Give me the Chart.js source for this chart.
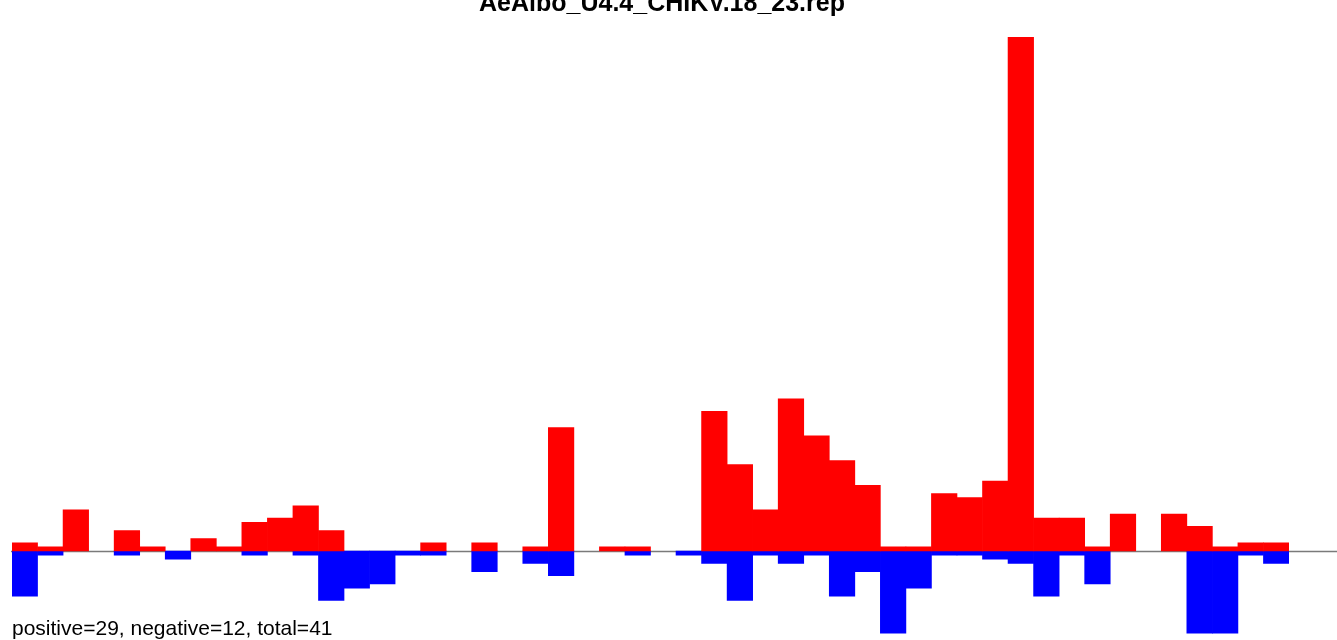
<!DOCTYPE html>
<html>
<head>
<meta charset="utf-8">
<title>AeAlbo_U4.4_CHIKV.18_23.rep</title>
<script src="https://cdn.jsdelivr.net/npm/chart.js@4/dist/chart.umd.min.js"></script>
<style>
  html, body { margin: 0; padding: 0; background: #ffffff; }
  #wrap { width: 1337px; height: 640px; position: relative; }
</style>
</head>
<body>
<div id="wrap"><canvas id="rep-chart"></canvas></div>
<script>
const titleText = "AeAlbo_U4.4_CHIKV.18_23.rep";
const summaryText = "positive=29, negative=12, total=41";

const bins = [
  "1", "2", "3", "4", "5", "6", "7", "8", "9", "10",
  "11", "12", "13", "14", "15", "16", "17", "18", "19", "20",
  "21", "22", "23", "24", "25", "26", "27", "28", "29", "30",
  "31", "32", "33", "34", "35", "36", "37", "38", "39", "40",
  "41", "42", "43", "44", "45", "46", "47", "48", "49", "50",
];

const positiveValues = [
  2, 1, 10, 0, 5, 1, 0, 3, 1, 7,
  8, 11, 5, 0, 0, 0, 2, 0, 2, 0,
  1, 30, 0, 1, 1, 0, 0, 34, 21, 10,
  37, 28, 22, 16, 1, 1, 14, 13, 17, 125,
  8, 8, 1, 9, 0, 9, 6, 1, 2, 2,
];

const negativeValues = [
  -11, -1, 0, 0, -1, 0, -2, 0, 0, -1,
  0, -1, -12, -9, -8, -1, -1, 0, -5, 0,
  -3, -6, 0, 0, -1, 0, -1, -3, -12, -1,
  -3, -1, -11, -5, -20, -9, -1, -1, -2, -3,
  -11, -1, -8, 0, 0, 0, -20, -20, -1, -3,
];

// empty bins are left out so no hairline bar is drawn on the zero line
function skipZeros(values) {
  return values.map((v) => (v === 0 ? null : v));
}

// zero line that runs on to the right edge of the canvas
const baselinePlugin = {
  id: "baseline",
  beforeDatasetsDraw(chart) {
    const ctx = chart.ctx;
    const y = chart.scales.y.getPixelForValue(0);
    ctx.save();
    ctx.strokeStyle = "#7a7a7a";
    ctx.lineWidth = 1.5;
    ctx.beginPath();
    ctx.moveTo(chart.chartArea.left - 1, y + 0.5);
    ctx.lineTo(chart.width, y + 0.5);
    ctx.stroke();
    ctx.restore();
  },
};

const textPlugin = {
  id: "texts",
  afterDraw(chart) {
    const ctx = chart.ctx;
    ctx.save();
    ctx.fillStyle = "#000000";
    ctx.textBaseline = "alphabetic";
    ctx.font = "bold 25px 'Liberation Sans', Arial, sans-serif";
    ctx.textAlign = "center";
    ctx.fillText(titleText, 662, 11);
    ctx.font = "21px 'Liberation Sans', Arial, sans-serif";
    ctx.textAlign = "left";
    ctx.fillText(summaryText, 12, 635);
    ctx.restore();
  },
};

const ctx = document.getElementById("rep-chart").getContext("2d");
const repChart = new Chart(ctx, {
  type: "bar",
  data: {
    labels: bins,
    datasets: [
      {
        label: "positive",
        data: skipZeros(positiveValues),
        backgroundColor: "#ff0000",
        borderWidth: 0,
        categoryPercentage: 1,
        barPercentage: 1,
      },
      {
        label: "negative",
        data: skipZeros(negativeValues),
        backgroundColor: "#0000ff",
        borderWidth: 0,
        categoryPercentage: 1,
        barPercentage: 1,
      },
    ],
  },
  options: {
    responsive: true,
    maintainAspectRatio: false,
    animation: false,
    layout: {
      padding: { left: 12, right: 48, top: 37, bottom: 2.6 },
    },
    plugins: {
      legend: { display: false },
      title: { display: false },
      tooltip: { enabled: false },
    },
    scales: {
      x: {
        stacked: true,
        display: false,
        grid: { display: false },
      },
      y: {
        stacked: true,
        display: false,
        min: -21,
        max: 125,
        grid: { display: false },
      },
    },
  },
  plugins: [baselinePlugin, textPlugin],
});
</script>
</body>
</html>
